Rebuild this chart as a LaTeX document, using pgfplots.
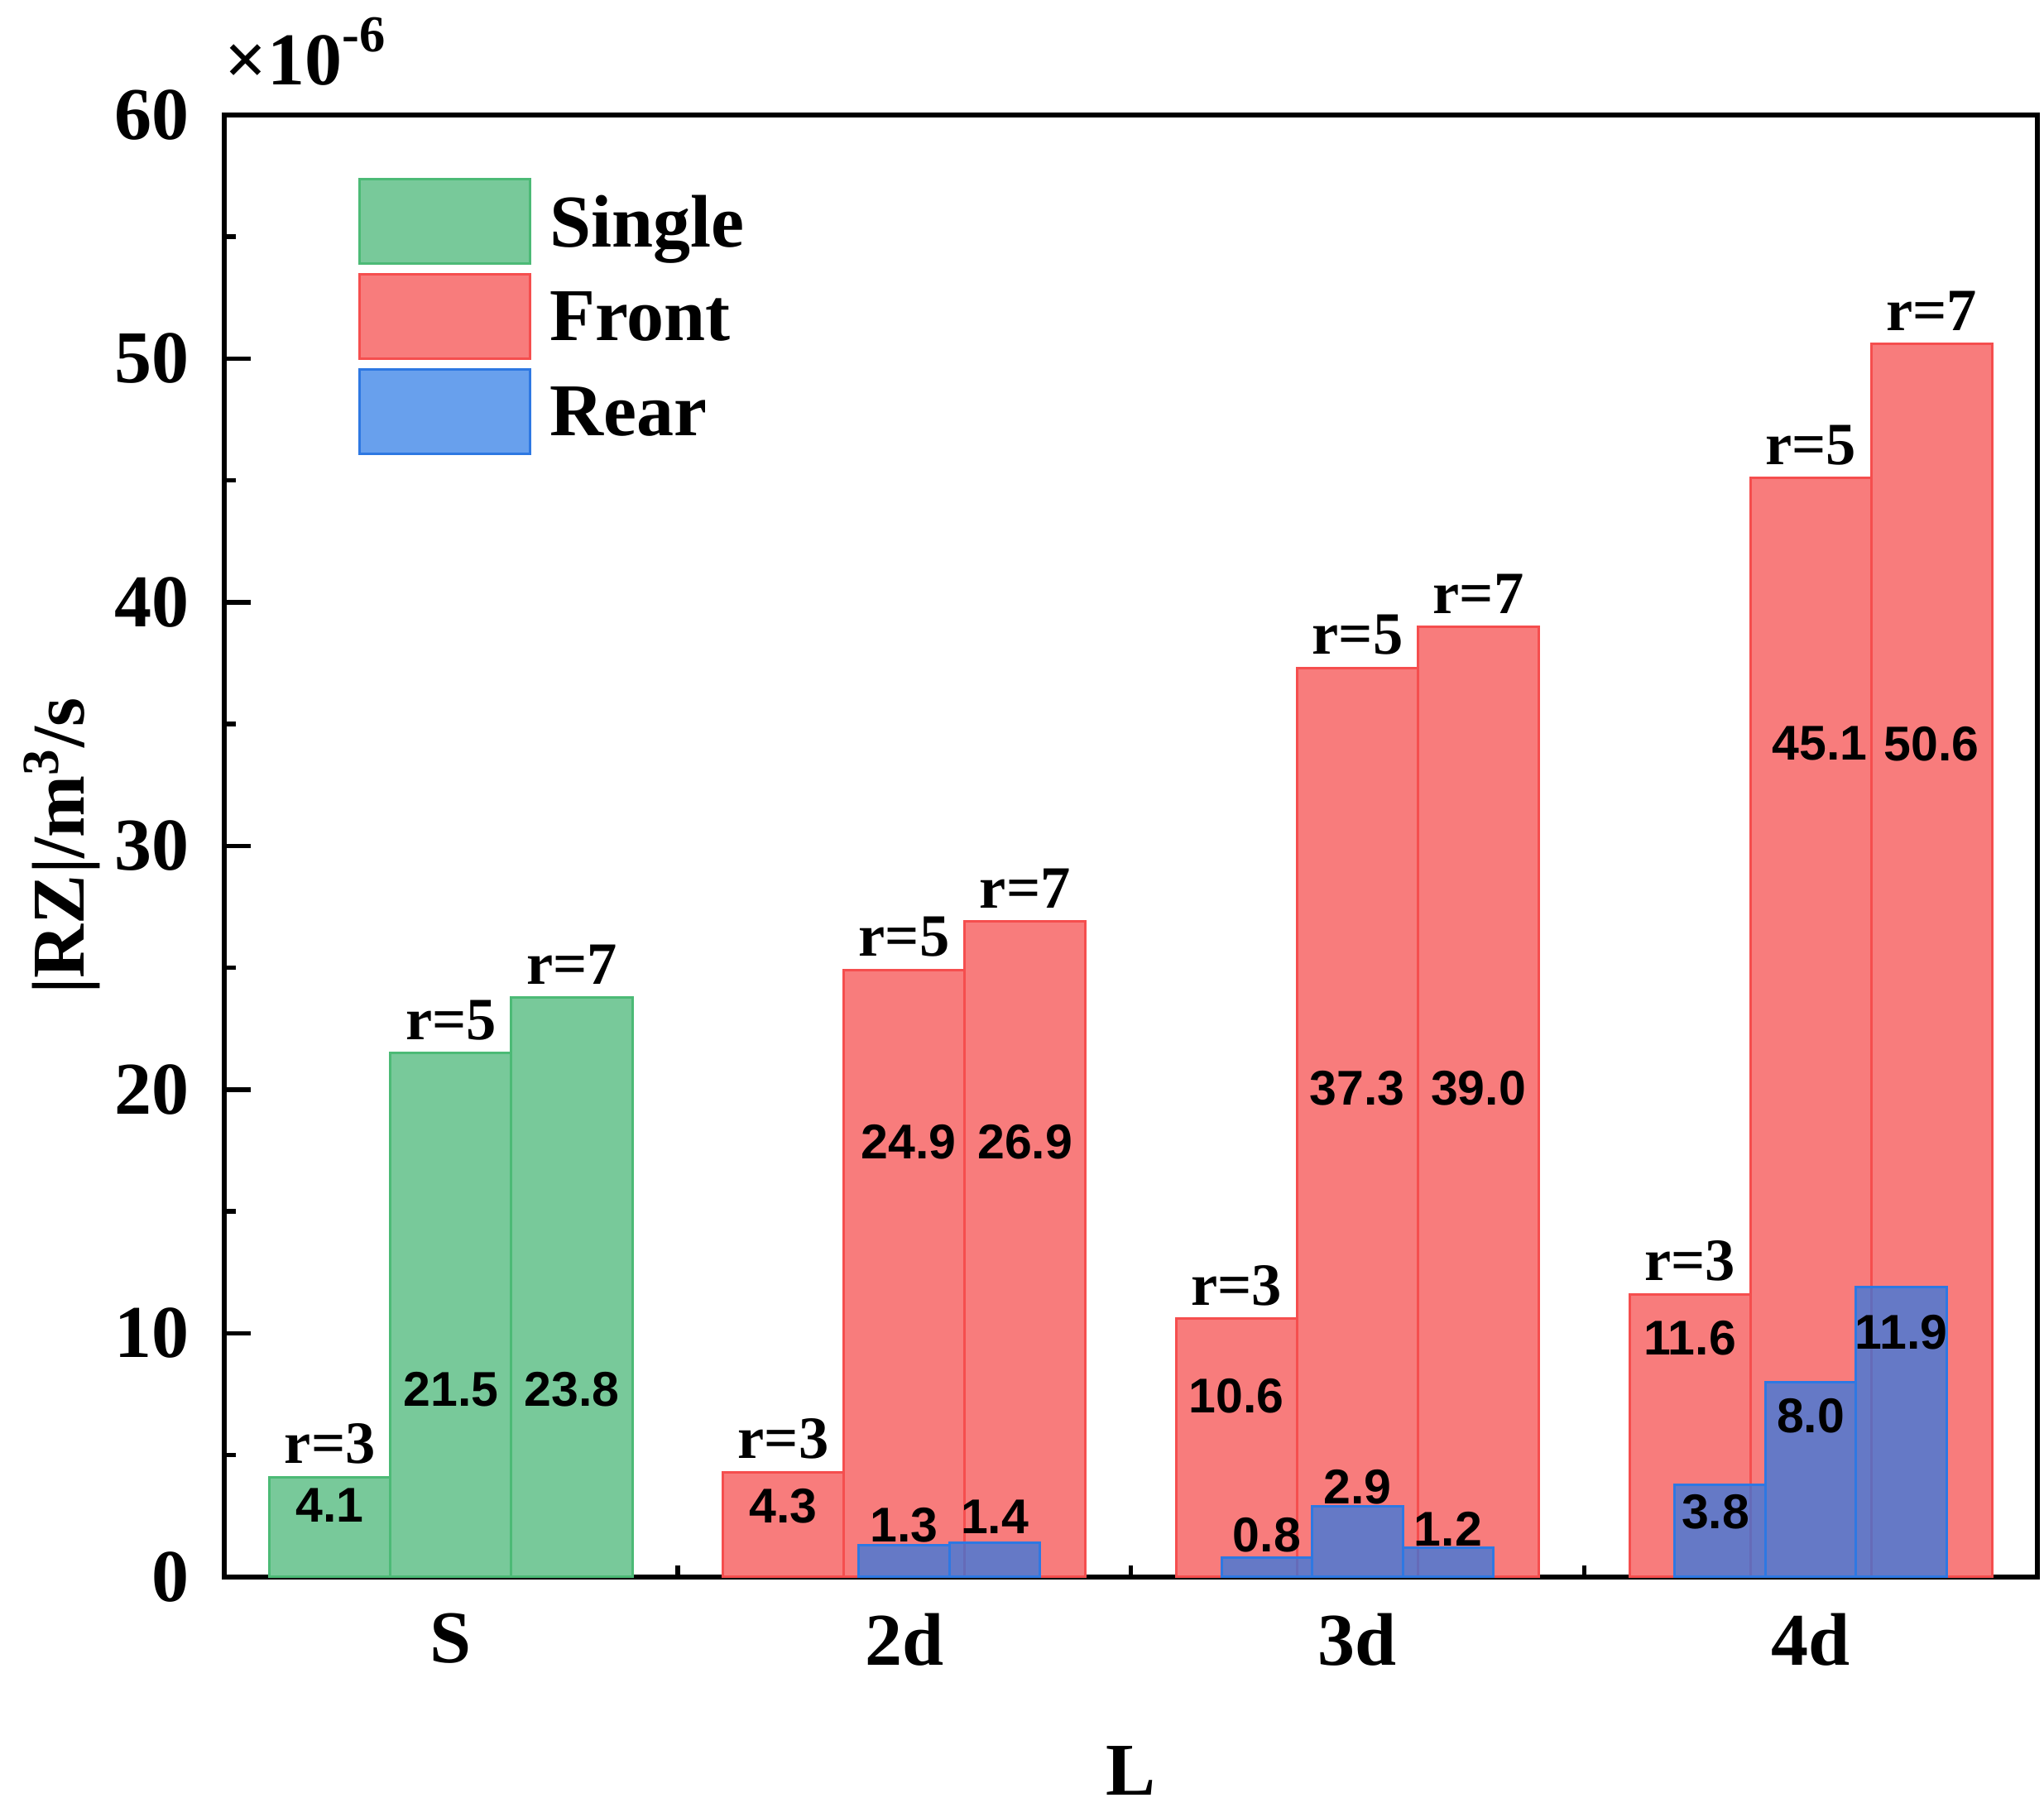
\documentclass[border=0pt]{standalone}
\usepackage{fontspec}
\setmainfont{Liberation Serif}
\newfontfamily\arialfont{Liberation Sans}
\usepackage{pgfplots}
\pgfplotsset{compat=1.18}
\definecolor{gfill}{RGB}{120,201,154}
\definecolor{gdraw}{RGB}{76,186,118}
\definecolor{rfill}{RGB}{248,124,124}
\definecolor{rdraw}{RGB}{245,78,78}
\definecolor{bfill}{RGB}{40,120,230}
\definecolor{bdraw}{RGB}{46,120,226}
\pgfplotsset{
  mybar/.style={ybar, bar shift=0pt, bar width=#1, line width=0.6pt,
    legend image code/.code={\draw[##1,line width=0.6pt] (0pt,-10.2pt) rectangle (41.2pt,10.2pt);}},
}
\tikzset{
  rlab/.style={anchor=south, inner sep=0pt, yshift=3pt, font=\fontsize{14.5}{14.5}\selectfont\bfseries},
  vlab/.style={anchor=center, inner sep=0pt, font=\arialfont\fontsize{11.8}{11.8}\selectfont\bfseries},
}
\newcommand{\rl}[3]{\node[rlab] at (axis cs:#1,#2) {r=#3};}
\newcommand{\vl}[3]{\node[vlab] at (axis cs:#1,#2) {#3};}
\begin{document}
\begin{tikzpicture}
\begin{axis}[
  name=ax, at={(0,0)}, anchor=south west,
  width=438.2pt, height=353.4pt, scale only axis,
  clip=false,
  xmin=-0.5, xmax=3.5, ymin=0, ymax=60,
  xtick={0,1,2,3}, xticklabels={S,2d,3d,4d},
  minor xtick={0.5,1.5,2.5},
  ytick={0,10,...,60}, minor ytick={5,15,...,55},
  xtick pos=left, ytick pos=left,
  tick align=inside,
  major tick length=6.3pt, minor tick length=2.7pt,
  tick style={black, line width=1.1pt},
  axis line style={line width=1.1pt},
  /pgf/number format/assume math mode=true,
  tick label style={font=\fontsize{18}{18}\selectfont\bfseries},
  xticklabel style={inner sep=0pt, yshift=-8.6pt},
  yticklabel style={inner sep=0pt, xshift=-8.2pt},
  xlabel={L},
  xlabel style={font=\fontsize{18}{18}\selectfont\bfseries, at={(axis description cs:0.5,-0.1155)}, anchor=north, inner sep=0pt},
  ylabel={|RZ|/m\textsuperscript{3}/s},
  ylabel style={font=\fontsize{18}{18}\selectfont\bfseries, at={(axis description cs:-0.068,0.5)}, anchor=south, inner sep=0pt},
  legend cell align=left,
  legend style={at={(axis description cs:0.0739,0.957)}, anchor=north west, draw=none, fill=none,
    inner sep=0pt, outer sep=0pt, row sep=2pt, column sep=4.5pt,
    font=\fontsize{18}{18}\selectfont\bfseries,
    nodes={inner sep=0pt, text depth=0pt}},
]
\addplot[mybar=0.2667, fill=gfill, draw=gdraw] coordinates {(-0.2667,4.1) (0,21.5) (0.2667,23.8)};
\addlegendentry{Single}
\addplot[mybar=0.2667, fill=rfill, draw=rdraw] coordinates {(0.7333,4.3) (1,24.9) (1.2667,26.9) (1.7333,10.6) (2,37.3) (2.2667,39.0) (2.7333,11.6) (3,45.1) (3.2667,50.6)};
\addlegendentry{Front}
\addplot[mybar=0.2, fill=bfill, fill opacity=0.7, draw=bdraw] coordinates {(1,1.3) (1.2,1.4) (1.8,0.8) (2,2.9) (2.2,1.2) (2.8,3.8) (3,8.0) (3.2,11.9)};
\addlegendentry{Rear}
% r labels
\rl{-0.2667}{4.1}{3}\rl{0}{21.5}{5}\rl{0.2667}{23.8}{7}
\rl{0.7333}{4.3}{3}\rl{1}{24.9}{5}\rl{1.2667}{26.9}{7}
\rl{1.7333}{10.6}{3}\rl{2}{37.3}{5}\rl{2.2667}{39.0}{7}
\rl{2.7333}{11.6}{3}\rl{3}{45.1}{5}\rl{3.2667}{50.6}{7}
% value labels
\vl{-0.2667}{2.94}{4.1}\vl{0}{7.7}{21.5}\vl{0.2667}{7.7}{23.8}
\vl{0.7333}{2.9}{4.3}\vl{1.01}{17.86}{24.9}\vl{1.2667}{17.86}{26.9}
\vl{1}{2.14}{1.3}\vl{1.2}{2.46}{1.4}
\vl{1.7333}{7.43}{10.6}\vl{2.0}{20.05}{37.3}\vl{2.2667}{20.05}{39.0}
\vl{1.8}{1.71}{0.8}\vl{2}{3.69}{2.9}\vl{2.2}{1.98}{1.2}
\vl{2.7333}{9.79}{11.6}\vl{3.02}{34.2}{45.1}\vl{3.2667}{34.2}{50.6}
\vl{2.79}{2.67}{3.8}\vl{3}{6.63}{8.0}\vl{3.2}{10.05}{11.9}
\node[anchor=base west, inner sep=0pt, font=\fontsize{18}{18}\selectfont\bfseries] at ([yshift=7.2pt]rel axis cs:0,1) {×10\raisebox{8pt}{\fontsize{12.5}{12.5}\selectfont -6}};
\end{axis}
\pgfresetboundingbox
\path ([xshift=-54.2pt,yshift=-58pt]ax.south west) rectangle ([xshift=1.6pt,yshift=27.8pt]ax.north east);
\end{tikzpicture}
\end{document}
